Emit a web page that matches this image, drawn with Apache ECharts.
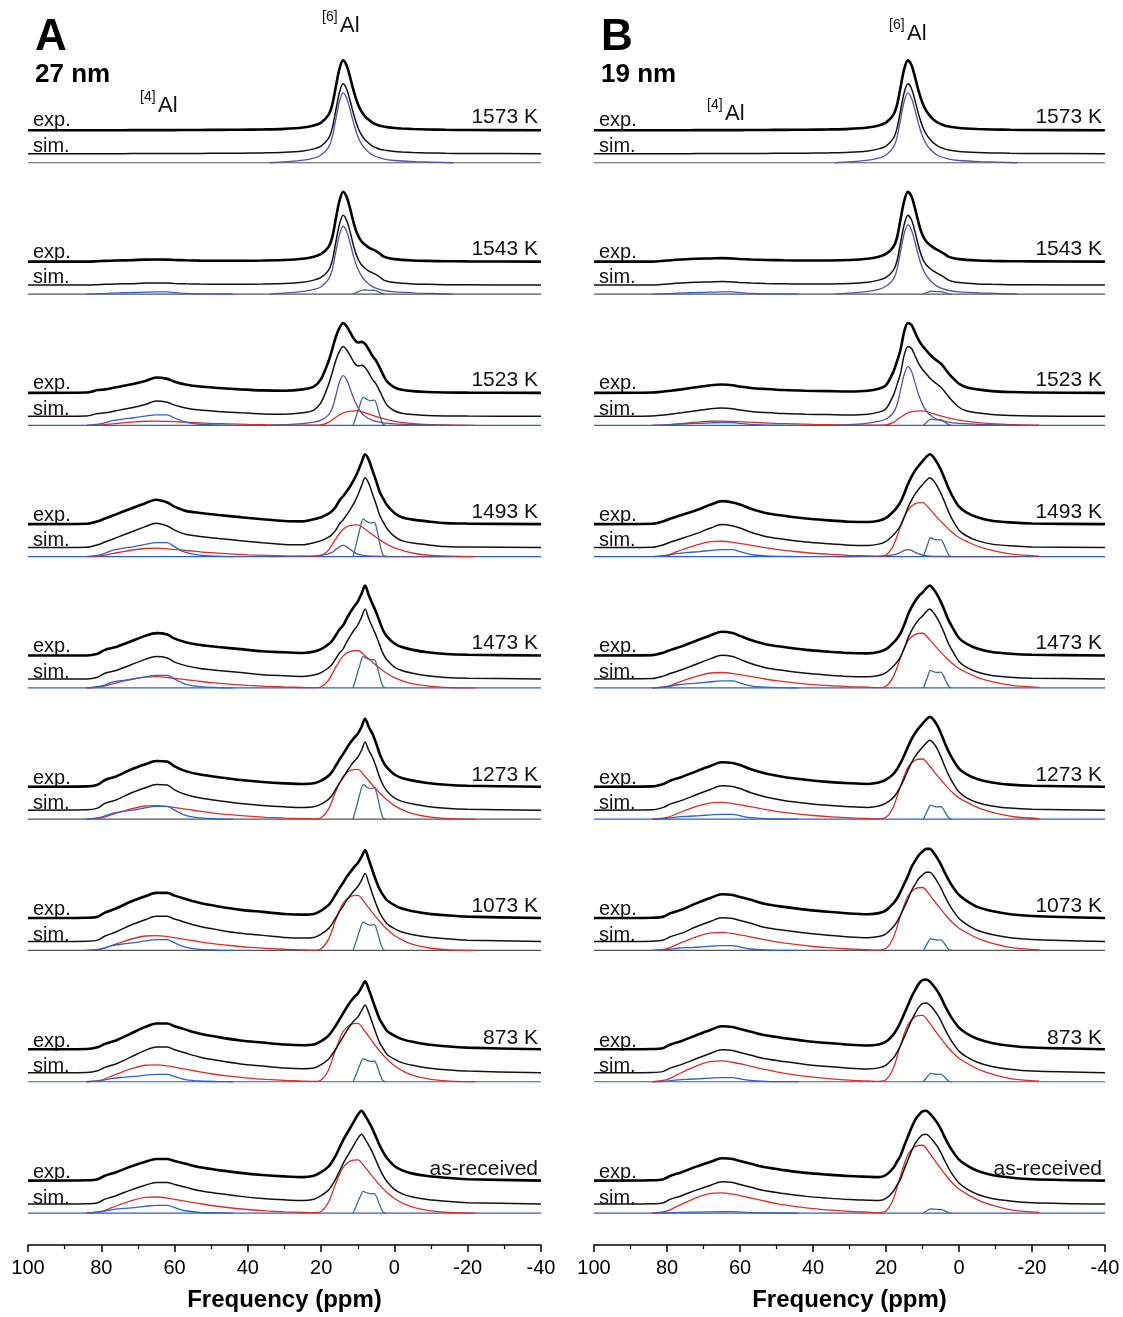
<!DOCTYPE html>
<html><head><meta charset="utf-8">
<script src="https://cdn.jsdelivr.net/npm/echarts@6/dist/echarts.min.js"></script>
<style>html,body{margin:0;padding:0;background:#fff}#c{width:1123px;height:1317px}</style>
</head><body><div id="c"></div>
<script>
// ---------------- DATA (intensities in % of each spectrum's maximum) ----------------
const ROW_LABELS = ['1573 K','1543 K','1523 K','1493 K','1473 K','1273 K','1073 K','873 K','as-received'];
const PANEL_LETTERS = ['A','B'];
const PANEL_SIZES = ['27 nm','19 nm'];

// chemical-shift grid (ppm) of the exp./sim. spectra
const PPM = [100,84,81,79,76,72,68,65,62,60, 57,53,48,42,36,30,25,22,20,18, 17,16,15,14,13,12,11,10,9,8, 7,6,5,4,3,2,0,-2,-5,-9, -14,-20,-40];

const SPEC_A = [
 [0,0,0,0,0,0.2,0.3,0.3,0.3,0.3, 0.4,0.5,0.6,0.8,1.2,2,4,7,11,22, 36,62,88,100,92,74,54,38,27,20, 15,11,8.5,6.5,5.5,4.5,3.2,2.5,1.8,1.2, 0.7,0.4,0],
 [0,0,0.5,1,1.5,2,2.8,3,2.8,2.3, 1.8,1.4,1.2,1.2,1.5,2.2,4,7,11,21, 34,61,87,100,92,74,53,38,29,24, 20,17.5,15,11.5,7.5,5.5,3.5,2.5,1.6,1, 0.5,0.3,0],
 [0,0.5,4,5,8,12,17,22,20,16, 12,9,7,5,3.5,3,5,9,20,45, 62,80,93,100,95,86,77,72,73,70, 62,53,46,36,25,16,8,4.5,2.5,1.2, 0.6,0.3,0],
 [0,0.5,4,8,14,22,30,35,31,25, 19,16,13,10,7,4.5,4,7,10,15, 19,25,34,40,47,55,64,75,88,100, 92,77,62,46,36,27,16,10,6.5,4, 1.5,0.8,0],
 [0,0,2.5,8,12,20,28,32,30,24, 19,15,12,9,6,4.5,3.5,5.5,9,16, 21,29,37,43,53,62,70,77,88,100, 86,74,62,48,35,27,17,12,8,4.5, 2,1,0],
 [0,0.5,3,10,15,25,33,38,37,30, 23,18,14,10,7,5,4,5,9,16, 22,31,40,48,57,65,72,78,88,100, 88,78,64,48,36,28,18,13,9,5.5, 3,1.5,0],
 [0,0.5,2,8,14,24,32,37,37,33, 28,22,17,12,9,6,5,6,11,19, 26,35,44,52,61,68,75,81,90,100, 86,70,55,42,33,26,19,14,10,6.5, 4,2,0],
 [0,0.5,3,8,13,23,33,38,38,34, 29,23,18,13,10,7,6,7,12,20, 27,35,44,53,62,70,77,82,91,100, 88,73,58,44,35,27,20,15,11,7, 4.5,2.5,0],
 [0,0.5,2,7,12,20,27,31,31,28, 24,19,15,11,8,6,5,7,12,20, 27,36,47,58,67,76,85,94,100,93, 84,74,62,50,40,32,21,15,10,6.5, 4,2,0]
];
const SPEC_B = [
 [0,0,0,0,0,0.2,0.3,0.3,0.3,0.3, 0.4,0.5,0.6,0.8,1.2,2,4,7,11,22, 36,62,88,100,93,75,55,39,28,21, 15.5,11.5,9,7,5.7,4.7,3.3,2.5,1.8,1.2, 0.7,0.4,0],
 [0,0,1,2,3,4,4.5,5,4.5,3.8, 3,2.3,1.8,1.5,1.6,2.2,4,7,11,21, 34,61,87,100,93,75,54,38,29,24, 20,17,14,11,7.5,5.5,3.5,2.5,1.6,1, 0.5,0.3,0],
 [0,0.5,2,3,5,8,11,12,11,9, 7,5.5,4,3,2.5,2,3,6,11,30, 45,62,88,100,97,86,75,67,61,55, 50,46,42,36,29,23,13,8,5,2.5, 1.2,0.5,0],
 [0,0.5,4,8,13,20,28,33,31,28, 22,16,12,8,5.5,3.5,3,5,9,18, 24,32,44,57,68,77,84,90,96,100, 96,88,78,66,53,42,25,17,10,5, 2.5,1,0],
 [0,0.5,4,8,13,21,29,34,32,28, 22,16,12,8,5.5,3.5,3,5,9,18, 24,32,44,58,69,78,85,90,96,100, 95,87,77,65,52,42,25,17,10,5, 2.5,1,0],
 [0,0.5,4,9,14,22,30,35,34,31, 25,19,14,10,7,5,4,6,10,18, 25,34,45,57,68,77,84,90,96,100, 96,88,77,64,52,42,26,18,11,6, 3,1.5,0],
 [0,0.5,2,7,12,21,29,34,33,30, 26,20,16,12,9,6.5,5.5,7,11,21, 28,38,49,60,73,82,90,95,99,99, 94,86,77,66,56,47,33,25,16,10, 5.5,3,0],
 [0,0.5,2,7,12,20,28,33,32,29, 25,20,16,12,9,6.5,5.5,7,11,21, 29,39,51,63,75,85,94,99,100,97, 91,84,75,64,54,45,31,23,15,9, 5,2.5,0],
 [0,0.5,2,7,12,20,27,32,31,28, 24,19,15,11,8.5,6.5,5.5,5,8,18, 27,36,50,63,76,87,94,99,100,96, 90,83,74,63,53,44,30,22,14,8, 4.5,2,0]
];

// Lorentzian-like [6]Al component near 14 ppm (purple)
const PPM_L = [34,26,22,20,18,17,16,15,14,13,12,11,10,9,8,6,3,0,-6,-16];
const PURPLE_A = [
 [0,3,6.5,11,22,36,62,88,100,92,74,54,38,27,20,11,5.5,3.2,1.5,0],
 [0,3,6.5,10.5,21,34,60,85,97,89,71,51,36,26,19,10.5,5.2,3,1.4,0],
 [0,2,4.5,7.5,15,24,42,62,71,65,51,37,26,18,13,7,3.5,2,1,0],
 [0,0.5,1,2,4,6,10,14,16,14,10,6,3.5,2,1.2,0.5,0.2,0,0,0],
 null,null,null,null,null
];
const PURPLE_B = [
 [0,3,6.5,11,22,36,62,88,100,92,74,54,38,27,20,11,5.5,3.2,1.5,0],
 [0,3,6.5,11,21,35,61,87,99,91,73,53,37,27,20,11,5.4,3.1,1.5,0],
 [0,2.5,5.5,9,18,29,51,73,84,77,60,43,30,21,15,8.5,4.5,2.7,1.2,0],
 [0,0.3,0.6,1.2,2.5,4,6,9,10,9,6,4,2.2,1.3,0.8,0.3,0.1,0,0,0],
 null,null,null,null,null
];

// [4]Al component near 65 ppm (blue)
const PPM_B4 = [84,80,77,74,71,68,65,62,60,57,53,48,44];
const BLUE_A = [
 null,
 [0,0.5,1.4,1.8,2.2,2.6,3,3,2.1,0.9,0.3,0.1,0],
 [0,2.3,6.8,9,10.8,13.2,15,15,10.5,4.5,1.5,0.5,0],
 [0,3,9,12,14.4,17.6,20,20,14,6,2,0.6,0],
 [0,2.7,8.1,10.8,13,15.8,18,18,12.6,5.4,1.8,0.5,0],
 [0,2.9,8.6,11.4,13.7,16.7,19,19,13.3,5.7,1.9,0.6,0],
 [0,2.4,7.2,9.6,11.5,14.1,16,16,11.2,4.8,1.6,0.5,0],
 [0,1.7,5,6.6,7.9,9.7,11,11,7.7,3.3,1.1,0.3,0],
 [0,1.7,5,6.6,7.9,9.7,11,11,7.7,3.3,1.1,0.3,0]
];
const BLUE_B = [
 null,
 [0,0.5,1.4,1.8,2.2,2.6,3,3,2.1,0.9,0.3,0.1,0],
 [0,0.6,1.8,2.4,2.9,3.5,4,4,2.8,1.2,0.4,0.1,0],
 [0,1.5,4.5,6,7.2,8.8,10,10,7,3,1,0.3,0],
 [0,1.5,4.5,6,7.2,8.8,10,10,7,3,1,0.3,0],
 [0,1.1,3.2,4.2,5,6.2,7,7,4.9,2.1,0.7,0.2,0],
 [0,1.1,3.2,4.2,5,6.2,7,7,4.9,2.1,0.7,0.2,0],
 [0,0.9,2.7,3.6,4.3,5.3,6,6,4.2,1.8,0.6,0.2,0],
 [0,0.3,0.9,1.2,1.4,1.8,2,2,1.4,0.6,0.2,0.1,0]
];

// narrow quadrupolar [6]Al component (steel blue)
const PPM_NA = [11.3,10.5,9.5,8.5,7.5,6.5,5.5,4.8,4,3.2,2.5];
const PPM_NB = [9.8,9.2,8.5,7.8,7,6,5,4.3,3.5,2.7,2];
const NARROW_A = [
 null,
 [0,1.8,4.2,6,5.6,5.3,5.4,4.3,2.1,0.4,0],
 [0,12,28,40,37,35,36,29,14,2.4,0],
 [0,16,38,54,50,48,49,39,19,3,0],
 [0,13.5,31.5,45,42,40,40.5,32,16,2.7,0],
 [0,15,36,51,47,45,46,37,18,3,0],
 [0,12.6,29.4,42,39,37,38,30,14.7,2.5,0],
 [0,10,24,34,31.6,30,30.6,24.5,12,2,0],
 [0,9.3,21.7,31,28.8,27.3,27.9,22.3,10.9,1.9,0]
];
const NARROW_B = [
 null,
 [0,1.2,2.8,4,3.7,3.5,3.6,2.9,1.4,0.2,0],
 [0,2.7,6.3,9,8.4,7.9,8.1,6.5,3.2,0.5,0],
 [0,8.1,18.9,27,25.1,23.8,24.3,19.4,9.5,1.6,0],
 [0,7.5,17.5,25,23.3,22,22.5,18,8.8,1.5,0],
 [0,6,14,20,18.6,17.6,18,14.4,7,1.2,0],
 [0,5.1,11.9,17,15.8,15,15.3,12.2,6,1,0],
 [0,3.6,8.4,12,11.2,10.6,10.8,8.6,4.2,0.7,0],
 [0,1.8,4.2,6,5.6,5.3,5.4,4.3,2.1,0.4,0]
];

// broad distributed [4]Al + [6]Al component (red)
const PPM_R = [84,80,77,74,71,68,65,62,58,54, 50,45,40,35,30,25,22,20,18,16, 14,12,10,8,6,4,2,0,-3,-6, -10,-15,-22];
const RED_A = [
 null, null,
 [0,0.6,2.1,3.6,4.9,5.8,6,5.6,4.7,3.7, 2.8,2,1.3,0.8,0.5,0.2,0.1,0.6,4.2,11.5, 17.9,20.4,20.8,17.9,14.3,10.9,8,5.7,3.4,1.9, 0.8,0.2,0],
 [0,1.2,4.2,7.2,9.8,11.6,12,11.2,9.4,7.4, 5.6,4,2.6,1.7,1,0.5,0.2,1.4,9.2,25.3, 39.1,44.6,45.5,39.1,31.3,23.9,17.5,12.4,7.4,4.1, 1.8,0.5,0],
 [0,1.6,5.6,9.6,13.1,15.5,16,14.9,12.5,9.9, 7.5,5.3,3.5,2.2,1.3,0.6,0.3,1.6,10.8,29.7, 45.9,52.4,53.5,45.9,36.7,28.1,20.5,14.6,8.6,4.9, 2.2,0.5,0],
 [0,2,7,12,16.4,19.4,20,18.6,15.6,12.4, 9.4,6.6,4.4,2.8,1.6,0.8,0.4,2.2,14.8,40.7, 62.9,71.8,73.3,62.9,50.3,38.5,28.1,20,11.8,6.7, 3,0.7,0],
 [0,2.2,7.7,13.2,18,21.3,22,20.5,17.2,13.6, 10.3,7.3,4.8,3.1,1.8,0.9,0.4,2.5,16.4,45.1, 69.7,79.5,81.2,69.7,55.8,42.6,31.2,22.1,13.1,7.4, 3.3,0.8,0],
 [0,2.5,8.8,15,20.5,24.3,25,23.3,19.5,15.5, 11.8,8.3,5.5,3.5,2,1,0.5,2.6,17.4,47.9, 74,84.4,86.1,74,59.2,45.2,33.1,23.5,13.9,7.8, 3.5,0.9,0],
 [0,2.3,8,13.8,18.9,22.3,23,21.4,17.9,14.3, 10.8,7.6,5.1,3.2,1.8,0.9,0.5,2.3,15.4,42.4, 65.5,74.7,76.2,65.5,52.4,40,29.3,20.8,12.3,6.9, 3.1,0.8,0]
];
const RED_B = [
 null, null,
 [0,0.6,2.1,3.6,4.9,5.8,6,5.6,4.7,3.7, 2.8,2,1.3,0.8,0.5,0.2,0.1,0.6,4.2,11.5, 17.9,20.4,20.8,18.3,15.1,12.2,9.5,7.4,5.3,3.6, 2.1,0.8,0.2],
 [0,2.2,7.7,13.2,18,21.3,22,20.5,17.2,13.6, 10.3,7.3,4.8,3.1,1.8,0.9,0.4,2.3,15.6,42.9, 66.3,75.7,77.2,67.9,56.2,45.2,35.1,27.3,19.5,13.3, 7.8,3.1,0.8],
 [0,2.2,7.7,13.2,18,21.3,22,20.5,17.2,13.6, 10.3,7.3,4.8,3.1,1.8,0.9,0.4,2.4,15.8,43.5, 67.2,76.6,78.2,68.7,56.9,45.8,35.6,27.7,19.8,13.4, 7.9,3.2,0.8],
 [0,2.4,8.4,14.4,19.7,23.3,24,22.3,18.7,14.9, 11.3,7.9,5.3,3.4,1.9,1,0.5,2.6,17.4,47.9, 74,84.4,86.1,75.7,62.6,50.5,39.2,30.5,21.8,14.8, 8.7,3.5,0.9],
 [0,2.6,9.1,15.6,21.3,25.2,26,24.2,20.3,16.1, 12.2,8.6,5.7,3.6,2.1,1,0.5,2.7,18.2,50, 77.4,88.3,90.1,79.2,65.5,52.8,41,31.9,22.8,15.5, 9.1,3.6,0.9],
 [0,3,10.5,18,24.6,29.1,30,27.9,23.4,18.6, 14.1,9.9,6.6,4.2,2.4,1.2,0.6,2.9,19.2,52.8, 81.6,93.1,95,83.5,69.1,55.7,43.2,33.6,24,16.3, 9.6,3.8,1],
 [0,2.9,10.2,17.4,23.8,28.1,29,27,22.6,18, 13.6,9.6,6.4,4.1,2.3,1.2,0.6,2.9,19.6,53.9, 83.3,95.1,97,85.3,70.6,56.8,44.1,34.3,24.5,16.7, 9.8,3.9,1]
];
const BASE_PPM = [100,-40];
const BASE_ZERO = [0,0];

// ---------------- LAYOUT / STYLE ----------------
const FONT = '"Liberation Sans", Arial, Helvetica, sans-serif';
const AXIS_Y = 1247;          // pixel row of the frequency axis
const ROW0 = 130.5, ROW_STEP = 131.5, SIM_OFF = 23.5, COMP_OFF = 32.5;
const PEAK_PX_A = [70,70,70,70,70,68,68,68,70];
const PEAK_PX_B = [70,70,70,70,70,70,70,70,70];
const BASE_COL_A = ['#555','#555','#2d5fc4','#2d5fc4','#2d5fc4','#555','#555','#2d5fc4','#2d5fc4'];
const BASE_COL_B = ['#555','#555','#2d5fc4','#2d5fc4','#2d5fc4','#2d5fc4','#555','#2d5fc4','#2d5fc4'];
const COL = {purple:'#55549e', blue:'#2f62c8', narrow:'#3d6c8c', red:'#d7302c'};
const PANELS = [
  {left:28, right:541, spec:SPEC_A, purple:PURPLE_A, blue:BLUE_A, narrow:NARROW_A, nppm:PPM_NA, red:RED_A, peak:PEAK_PX_A, baseCol:BASE_COL_A},
  {left:594, right:1105, spec:SPEC_B, purple:PURPLE_B, blue:BLUE_B, narrow:NARROW_B, nppm:PPM_NB, red:RED_B, peak:PEAK_PX_B, baseCol:BASE_COL_B}
];

function mk(pi, ppm, vals, base, peakPx, color, width, z){
  return {type:'line', xAxisIndex:pi, yAxisIndex:pi, silent:true, animation:false, clip:false,
    symbol:'none', showSymbol:false, smooth:0.3, z:z,
    lineStyle:{color:color, width:width},
    data: ppm.map((p,k)=>[p, base - vals[k]*peakPx/100])};
}

const series = [], graphic = [], grids = [], xAxes = [], yAxes = [];
PANELS.forEach((P, pi)=>{
  grids.push({left:P.left, width:P.right-P.left, top:0, height:AXIS_Y});
  xAxes.push({gridIndex:pi, type:'value', inverse:true, min:-40, max:100, interval:20,
    axisLine:{show:true, onZero:false, lineStyle:{color:'#000', width:1.5}},
    axisTick:{show:true, inside:false, length:7, lineStyle:{color:'#000', width:1.5}},
    minorTick:{show:true, splitNumber:2, length:4, lineStyle:{color:'#000', width:1.2}},
    axisLabel:{color:'#000', fontSize:20, fontFamily:FONT, margin:13, showMinLabel:true, showMaxLabel:true},
    splitLine:{show:false}, minorSplitLine:{show:false},
    name:'Frequency (ppm)', nameLocation:'middle', nameGap:43,
    nameTextStyle:{fontSize:24, fontWeight:'bold', color:'#000', fontFamily:FONT}});
  yAxes.push({gridIndex:pi, type:'value', min:0, max:AXIS_Y, inverse:true, show:false});

  ROW_LABELS.forEach((lab, r)=>{
    const eb = ROW0 + r*ROW_STEP, sb = eb + SIM_OFF, cb = eb + COMP_OFF;
    const h = P.peak[r];
    series.push(mk(pi, BASE_PPM, BASE_ZERO, cb, h, P.baseCol[r], 1.2, 1));
    if (P.red[r]) series.push(mk(pi, PPM_R, P.red[r], cb, h, COL.red, 1.3, 2));
    if (P.blue[r]) series.push(mk(pi, PPM_B4, P.blue[r], cb, h, COL.blue, 1.3, 3));
    if (P.purple[r]) series.push(mk(pi, PPM_L, P.purple[r], cb, h, COL.purple, 1.3, 3));
    if (P.narrow[r]) series.push(mk(pi, P.nppm, P.narrow[r], cb, h, COL.narrow, 1.3, 3));
    series.push(mk(pi, PPM, P.spec[r], sb, h, '#111', 1.5, 4));
    series.push(mk(pi, PPM, P.spec[r], eb, h, '#000', 2.6, 5));
    graphic.push({type:'text', x:P.left+5, y:eb-10, style:{text:'exp.', fontSize:20, fontFamily:FONT, fill:'#111', align:'left', verticalAlign:'middle'}});
    graphic.push({type:'text', x:P.left+5, y:sb-8, style:{text:'sim.', fontSize:20, fontFamily:FONT, fill:'#111', align:'left', verticalAlign:'middle'}});
    graphic.push({type:'text', x:P.right-3, y:eb-13, style:{text:lab, fontSize:21, fontFamily:FONT, fill:'#111', align:'right', verticalAlign:'middle'}});
  });
  graphic.push({type:'text', x:P.left+7, y:38, style:{text:PANEL_LETTERS[pi], fontSize:44, fontWeight:'bold', fontFamily:FONT, fill:'#000', align:'left', verticalAlign:'middle'}});
  graphic.push({type:'text', x:P.left+7, y:75, style:{text:PANEL_SIZES[pi], fontSize:26, fontWeight:'bold', fontFamily:FONT, fill:'#000', align:'left', verticalAlign:'middle'}});
});
// site labels
const SITE = [
  {x:140, y:97, sup:'[4]'}, {x:322, y:17, sup:'[6]'},
  {x:707, y:105, sup:'[4]'}, {x:889, y:25, sup:'[6]'}
];
SITE.forEach(s=>{
  graphic.push({type:'text', x:s.x, y:s.y, style:{text:s.sup, fontSize:14, fontFamily:FONT, fill:'#111', align:'left', verticalAlign:'middle'}});
  graphic.push({type:'text', x:s.x+18, y:s.y+9, style:{text:'Al', fontSize:22, fontFamily:FONT, fill:'#111', align:'left', verticalAlign:'middle'}});
});

const chart = echarts.init(document.getElementById('c'), null, {renderer:'canvas'});
chart.setOption({
  backgroundColor:'#fff', animation:false,
  grid:grids, xAxis:xAxes, yAxis:yAxes, series:series, graphic:graphic
});
</script></body></html>
